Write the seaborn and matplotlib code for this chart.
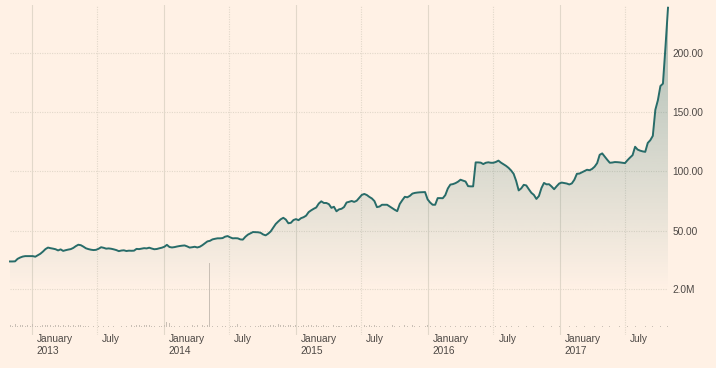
import numpy as np
import pandas as pd
import seaborn as sns
import matplotlib.pyplot as plt
import matplotlib.colors as mcolors
import matplotlib.dates as mdates
from matplotlib.transforms import ScaledTranslation

# weekly closing price, starting early Nov 2012
start_date = '2012-11-02'
price = [
    24.1, 24.1, 24.2, 26.3, 27.4, 28.2, 28.6, 28.6, 28.6, 28.6,
    28.1, 29.3, 30.6, 32.4, 34.5, 35.8, 35.3, 34.9, 34.4, 33.4,
    34.3, 33.0, 33.6, 34.1, 34.5, 35.5, 37.0, 38.2, 37.8, 36.6,
    35.2, 34.5, 34.0, 33.7, 33.9, 34.8, 36.1, 35.6, 34.9, 35.1,
    34.8, 34.3, 33.7, 32.8, 33.3, 33.5, 32.9, 33.2, 33.1, 33.2,
    34.7, 34.5, 34.9, 35.3, 35.1, 35.7, 35.0, 34.4, 34.6, 35.2,
    35.7, 36.5, 38.1, 36.3, 35.9, 36.2, 36.7, 37.1, 37.4, 37.6,
    36.8, 35.8, 36.1, 36.5, 35.9, 36.5, 37.8, 39.4, 41.0, 41.5,
    42.7, 43.2, 43.6, 43.6, 43.8, 45.0, 45.5, 44.4, 43.6, 43.7,
    43.6, 42.7, 42.5, 44.9, 46.7, 47.8, 48.9, 48.8, 48.7, 48.3,
    46.9, 46.1, 47.5, 49.4, 52.6, 55.7, 57.8, 59.7, 60.9, 59.4,
    56.3, 56.7, 59.0, 59.8, 58.9, 60.6, 61.4, 62.7, 65.7, 67.2,
    68.5, 69.6, 72.9, 74.8, 73.4, 73.4, 72.4, 69.3, 70.2, 66.4,
    68.0, 68.5, 70.0, 73.8, 74.4, 75.1, 74.3, 75.3, 77.8, 80.2,
    81.0, 80.1, 78.5, 77.2, 75.0, 69.9, 70.4, 71.9, 71.9, 71.9,
    70.5, 69.1, 67.7, 66.5, 72.5, 75.7, 78.6, 78.2, 79.4, 81.3,
    81.9, 82.2, 82.4, 82.5, 82.6, 76.5, 73.8, 71.9, 71.9, 77.5,
    77.5, 77.4, 80.0, 85.6, 88.9, 89.3, 90.1, 91.3, 93.0, 92.2,
    91.5, 87.6, 87.4, 87.4, 107.6, 107.6, 107.4, 106.2, 107.3, 107.7,
    107.3, 107.3, 108.0, 109.1, 107.4, 106.0, 104.7, 103.0, 100.8, 98.0,
    92.0, 84.0, 85.7, 88.7, 88.2, 85.0, 82.0, 80.2, 76.8, 79.3,
    86.0, 90.3, 89.1, 89.2, 87.3, 85.0, 87.5, 89.8, 90.6, 90.2,
    89.8, 89.0, 89.9, 93.0, 98.0, 98.2, 99.3, 100.5, 101.4, 101.0,
    102.1, 104.0, 107.0, 114.0, 115.2, 112.5, 109.8, 107.3, 107.5, 107.9,
    107.8, 107.6, 107.3, 107.0, 109.5, 111.7, 113.7, 120.8, 118.4, 117.5,
    116.9, 116.5, 124.0, 126.3, 130.0, 152.0, 160.0, 172.0, 174.0, 205.0,
    238.0,
]

# weekly volume, millions of shares
volume_m = [
    0.12, 0.08, 0.14, 0.05, 0.10, 0.13, 0.04, 0.09, 0.06, 0.15,
    0.03, 0.05, 0.04, 0.11, 0.12, 0.09, 0.13, 0.06, 0.10, 0.12,
    0.08, 0.11, 0.05, 0.10, 0.07, 0.12, 0.04, 0.09, 0.10, 0.06,
    0.08, 0.04, 0.02, 0.03, 0.02, 0.05, 0.02, 0.03, 0.02, 0.03,
    0.02, 0.03, 0.02, 0.02, 0.03, 0.02, 0.04, 0.02, 0.10, 0.03,
    0.09, 0.12, 0.05, 0.11, 0.10, 0.13, 0.04, 0.03, 0.02, 0.03,
    0.05, 0.12, 0.25, 0.22, 0.04, 0.03, 0.02, 0.03, 0.02, 0.04,
    0.03, 0.02, 0.10, 0.05, 0.09, 0.02, 0.11, 0.04, 0.10, 3.35,
    0.03, 0.02, 0.04, 0.02, 0.05, 0.03, 0.02, 0.04, 0.03, 0.06,
    0.18, 0.03, 0.02, 0.04, 0.02, 0.03, 0.02, 0.04, 0.03, 0.09,
    0.05, 0.08, 0.04, 0.10, 0.12, 0.06, 0.14, 0.10, 0.13, 0.07,
    0.12, 0.10, 0.05, 0.11, 0.08, 0.04, 0.10, 0.07, 0.09, 0.12,
    0.05, 0.09, 0.04, 0.08, 0.10, 0.03, 0.07, 0.02, 0.09, 0.04,
    0.03, 0.08, 0.02, 0.05, 0.03, 0.10, 0.04, 0.12, 0.03, 0.02,
    0.09, 0.03, 0.10, 0.05, 0.12, 0.04, 0.08, 0.02, 0.06, 0.03,
    0.02, 0.09, 0.03, 0.02, 0.08, 0.02, 0.10, 0.03, 0.02, 0.11,
    0.03, 0.02, 0.04, 0.02, 0.03, 0.09, 0.04, 0.02, 0.03, 0.02,
    0.03, 0.02, 0.04, 0.02, 0.03, 0.02, 0.03, 0.02, 0.04, 0.02,
    0.08, 0.03, 0.07, 0.02, 0.03, 0.02, 0.03, 0.02, 0.03, 0.02,
    0.03, 0.02, 0.04, 0.02, 0.03, 0.02, 0.03, 0.02, 0.03, 0.02,
    0.02, 0.03, 0.02, 0.02, 0.03, 0.02, 0.02, 0.03, 0.02, 0.02,
    0.02, 0.03, 0.02, 0.02, 0.03, 0.02, 0.02, 0.03, 0.02, 0.02,
    0.02, 0.03, 0.02, 0.02, 0.03, 0.02, 0.02, 0.03, 0.02, 0.02,
    0.02, 0.03, 0.02, 0.02, 0.03, 0.02, 0.02, 0.03, 0.02, 0.02,
    0.02, 0.03, 0.02, 0.02, 0.03, 0.02, 0.02, 0.03, 0.02, 0.02,
    0.02, 0.03, 0.02, 0.02, 0.03, 0.02, 0.02, 0.03, 0.02, 0.02,
    0.03,
]

price_ticks = [50, 100, 150, 200]
volume_ticks = [2.0]

dates = pd.date_range(start_date, periods=len(price), freq='7D')

BG = '#fff1e5'
LINE = '#286c69'
GRID = '#e2d8ca'
VOL = '#c9bfb5'
TEXT = '#4d4845'
FS = 7.3

plt.rcParams['font.family'] = ['Liberation Sans', 'DejaVu Sans']

fig = plt.figure(figsize=(7.16, 3.68), dpi=100, facecolor=BG)
ax = fig.add_axes([10 / 716, 33 / 368, 658 / 716, 330 / 368])
ax.set_facecolor('none')

# price line + gradient fill
sns.lineplot(x=dates, y=price, ax=ax, color=LINE, linewidth=1.4, zorder=4)
ax.lines[0].set_clip_on(False)
poly = ax.fill_between(dates, price, 0, facecolor='none', edgecolor='none')
xs = mdates.date2num(dates)
grad = np.zeros((256, 1, 4))
grad[..., :3] = mcolors.to_rgb(LINE)
grad[:, 0, 3] = np.linspace(0.41, 0.0, 256)
im = ax.imshow(grad, extent=[xs[0], xs[-1], 0, 245], origin='upper',
               aspect='auto', zorder=2, interpolation='bilinear')
im.set_clip_path(poly.get_paths()[0], transform=ax.transData)

ax.set_xlim(dates[0], dates[-1])
ax.set_ylim(-37.9, 240.3)
ax.set_xlabel('')
ax.set_ylabel('')

jan = pd.date_range('2013-01-01', '2017-01-01', freq='YS')
jul = pd.date_range('2013-07-01', '2017-07-01', freq='12MS')
ax.set_xticks(jan)
ax.set_xticklabels([f'January\n{d.year}' for d in jan])
ax.set_xticks(jul, minor=True)
ax.set_xticklabels(['July'] * len(jul), minor=True)
ax.tick_params(axis='x', which='both', length=0, pad=-1, labelsize=FS,
               labelcolor=TEXT)
offset = ScaledTranslation(5 / 100, 0, fig.dpi_scale_trans)
for lbl in ax.get_xticklabels(which='both'):
    lbl.set_horizontalalignment('left')
    lbl.set_linespacing(1.35)
    lbl.set_transform(lbl.get_transform() + offset)

ax.yaxis.tick_right()
ax.set_yticks(price_ticks)
ax.set_yticklabels([f'{v:.2f}' for v in price_ticks])
ax.tick_params(axis='y', length=0, pad=3, labelsize=FS, labelcolor=TEXT)

ax.grid(axis='x', which='major', color=GRID, linewidth=0.8, linestyle='-')
ax.grid(axis='x', which='minor', color=GRID, linewidth=0.8, linestyle=(0, (1, 1.2)))
ax.grid(axis='y', color=GRID, linewidth=0.8, linestyle=(0, (1, 1.2)))
for s in ax.spines.values():
    s.set_visible(False)

# volume panel
vax = fig.add_axes([10 / 716, 33 / 368, 658 / 716, 95 / 368])
vax.set_facecolor('none')
vax.bar(dates, volume_m, width=2.8, color=VOL, linewidth=0, zorder=3)
vax.set_xlim(dates[0], dates[-1])
vax.set_ylim(-0.42, 4.58)
vax.set_xticks([])
vax.yaxis.tick_right()
vax.set_yticks(volume_ticks)
vax.set_yticklabels([f'{v:.1f}M' for v in volume_ticks])
vax.tick_params(axis='y', length=0, pad=3, labelsize=FS, labelcolor=TEXT)
vax.grid(axis='y', color=GRID, linewidth=0.8, linestyle=(0, (1, 1.2)))
vax.grid(axis='x', visible=False)
for s in vax.spines.values():
    s.set_visible(False)

fig.savefig('out.png', dpi=100, facecolor=BG)
